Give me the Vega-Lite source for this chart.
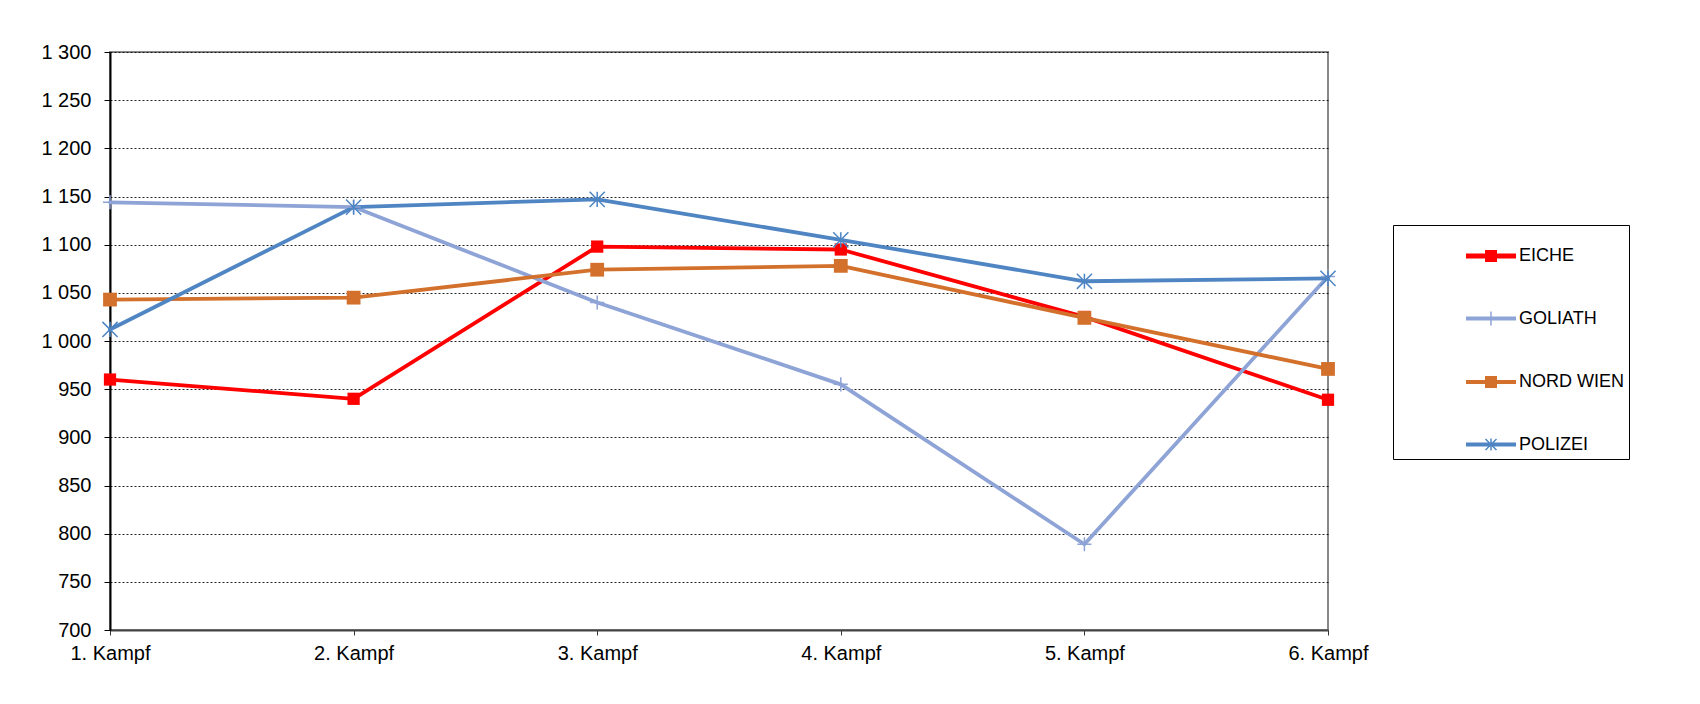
{
  "$schema": "https://vega.github.io/schema/vega-lite/v6.json",
  "width": 1218,
  "height": 578,
  "autosize": "none",
  "padding": {"left": 110, "top": 52, "right": 372, "bottom": 74},
  "background": "white",
  "data": {
    "values": [
      {"fight": "1. Kampf", "team": "EICHE", "score": 960},
      {"fight": "2. Kampf", "team": "EICHE", "score": 940},
      {"fight": "3. Kampf", "team": "EICHE", "score": 1098},
      {"fight": "4. Kampf", "team": "EICHE", "score": 1095},
      {"fight": "5. Kampf", "team": "EICHE", "score": 1025},
      {"fight": "6. Kampf", "team": "EICHE", "score": 939},
      {"fight": "1. Kampf", "team": "GOLIATH", "score": 1144},
      {"fight": "2. Kampf", "team": "GOLIATH", "score": 1139},
      {"fight": "3. Kampf", "team": "GOLIATH", "score": 1040},
      {"fight": "4. Kampf", "team": "GOLIATH", "score": 955},
      {"fight": "5. Kampf", "team": "GOLIATH", "score": 789},
      {"fight": "6. Kampf", "team": "GOLIATH", "score": 1067},
      {"fight": "1. Kampf", "team": "NORD WIEN", "score": 1043},
      {"fight": "2. Kampf", "team": "NORD WIEN", "score": 1045},
      {"fight": "3. Kampf", "team": "NORD WIEN", "score": 1074},
      {"fight": "4. Kampf", "team": "NORD WIEN", "score": 1078},
      {"fight": "5. Kampf", "team": "NORD WIEN", "score": 1024},
      {"fight": "6. Kampf", "team": "NORD WIEN", "score": 971},
      {"fight": "1. Kampf", "team": "POLIZEI", "score": 1012},
      {"fight": "2. Kampf", "team": "POLIZEI", "score": 1139},
      {"fight": "3. Kampf", "team": "POLIZEI", "score": 1147},
      {"fight": "4. Kampf", "team": "POLIZEI", "score": 1105},
      {"fight": "5. Kampf", "team": "POLIZEI", "score": 1062},
      {"fight": "6. Kampf", "team": "POLIZEI", "score": 1065}
    ]
  },
  "encoding": {
    "x": {
      "field": "fight",
      "type": "ordinal",
      "scale": {"type": "point", "padding": 0, "domain": ["1. Kampf", "2. Kampf", "3. Kampf", "4. Kampf", "5. Kampf", "6. Kampf"]},
      "axis": {
        "title": null,
        "labelAngle": 0,
        "labelFontSize": 20,
        "labelFont": "Liberation Sans",
        "labelColor": "#000",
        "tickSize": 5,
        "tickColor": "#333",
        "domainColor": "#444",
        "domainWidth": 2,
        "labelPadding": 8,
        "grid": false
      }
    },
    "y": {
      "field": "score",
      "type": "quantitative",
      "scale": {"domain": [700, 1300], "nice": false, "zero": false},
      "axis": {
        "title": null,
        "values": [700, 750, 800, 850, 900, 950, 1000, 1050, 1100, 1150, 1200, 1250, 1300],
        "labelExpr": "replace(format(datum.value, ',d'), ',', ' ')",
        "labelFontSize": 20,
        "labelFont": "Liberation Sans",
        "labelColor": "#000",
        "tickSize": 6,
        "tickColor": "#000",
        "domainColor": "#000",
        "domainWidth": 2,
        "labelPadding": 13,
        "grid": true,
        "gridColor": "#000",
        "gridDash": [2, 2],
        "gridWidth": 1,
        "gridOpacity": 0.85
      }
    }
  },
  "layer": [
    {
      "mark": {"type": "line", "strokeJoin": "round", "strokeCap": "round", "strokeWidth": 3.8},
      "encoding": {
        "color": {
          "field": "team",
          "type": "nominal",
          "scale": {"domain": ["EICHE", "GOLIATH", "NORD WIEN", "POLIZEI"], "range": ["#FF0000", "#8EA3D6", "#D2702C", "#4E85C2"]},
          "legend": {
            "orient": "none",
            "legendX": 1283,
            "legendY": 173,
            "title": null,
            "symbolType": "stroke",
            "symbolSize": 2500,
            "symbolStrokeWidth": 1.5,
            "padding": 5,
            "symbolOffset": 67,
            "labelOffset": 2,
            "rowPadding": 27.5,
            "strokeColor": "#000",
            "labelFontSize": 18,
            "labelFont": "Liberation Sans",
            "labelColor": "#000",
            "encode": {
              "symbols": {
                "update": {
                  "shape": {"signal": "datum.value === 'EICHE' ? 'M-0.97,-0.07L0.97,-0.07L0.97,0.07L-0.97,0.07ZM-0.21,-0.21L0.21,-0.21L0.21,0.21L-0.21,0.21Z' : datum.value === 'GOLIATH' ? 'M-0.97,-0.05L0.97,-0.05L0.97,0.05L-0.97,0.05ZM0,-0.28L0,0.28' : datum.value === 'NORD WIEN' ? 'M-0.97,-0.05L0.97,-0.05L0.97,0.05L-0.97,0.05ZM-0.21,-0.21L0.21,-0.21L0.21,0.21L-0.21,0.21Z' : 'M-0.97,-0.05L0.97,-0.05L0.97,0.05L-0.97,0.05ZM0,-0.24L0,0.24M-0.22,-0.22L0.22,0.22M-0.22,0.22L0.22,-0.22'"},
                  "fill": {"scale": "color", "field": "value"},
                  "fillOpacity": {"value": 1},
                  "strokeWidth": {"value": 1.5}
                }
              }
            }
          }
        }
      }
    },
    {
      "transform": [{"filter": {"field": "team", "equal": "EICHE"}}],
      "mark": {"type": "point", "shape": "square", "filled": true, "opacity": 1, "fill": "#FF0000", "size": 150}
    },
    {
      "transform": [{"filter": {"field": "team", "equal": "GOLIATH"}}],
      "mark": {"type": "point", "shape": "M-1,0L1,0M0,-1L0,1", "filled": false, "opacity": 1, "stroke": "#8EA3D6", "strokeWidth": 1.5, "size": 200}
    },
    {
      "transform": [{"filter": {"field": "team", "equal": "NORD WIEN"}}],
      "mark": {"type": "point", "shape": "square", "filled": true, "opacity": 1, "fill": "#D2702C", "size": 190}
    },
    {
      "transform": [{"filter": {"field": "team", "equal": "POLIZEI"}}],
      "mark": {"type": "point", "shape": "M-1,-1L1,1M-1,1L1,-1M0,-1L0,1", "filled": false, "opacity": 1, "stroke": "#4E85C2", "strokeWidth": 1.5, "size": 230}
    }
  ],
  "config": {
    "view": {"stroke": "#888", "strokeWidth": 2},
    "font": "Liberation Sans"
  }
}
